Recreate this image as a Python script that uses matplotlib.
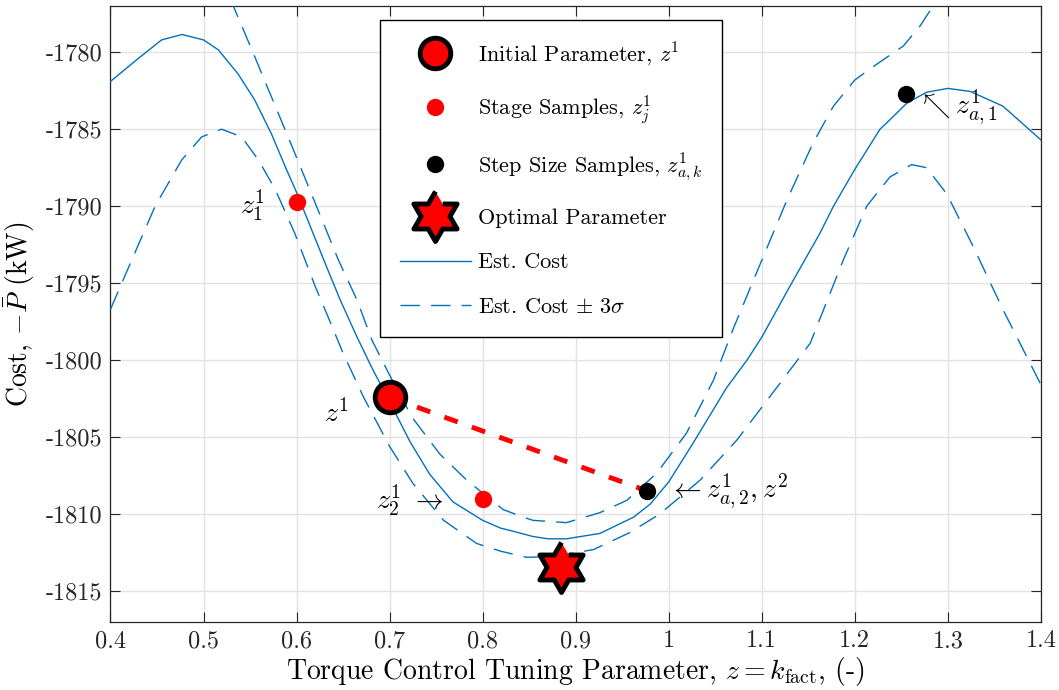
import numpy as np
import matplotlib
matplotlib.use("Agg")
import matplotlib.pyplot as plt
from matplotlib.ticker import FixedLocator, FuncFormatter

plt.rcParams["font.family"] = "serif"
plt.rcParams["font.serif"] = ["cmr10"]
plt.rcParams["mathtext.fontset"] = "cm"
plt.rcParams["axes.unicode_minus"] = False
plt.rcParams["axes.formatter.use_mathtext"] = True

# estimated cost curve (GP mean)
est_x = [0.400, 0.430, 0.455, 0.477, 0.500, 0.516, 0.537, 0.555, 0.573, 0.589,
         0.600, 0.632, 0.647, 0.665, 0.681, 0.700, 0.722, 0.743, 0.768,
         0.800, 0.819, 0.829, 0.854, 0.870, 0.890, 0.926, 0.962, 0.980, 1.000,
         1.026, 1.062, 1.084, 1.100, 1.132, 1.1625, 1.177, 1.200, 1.227, 1.234,
         1.256, 1.277, 1.300, 1.324, 1.359, 1.400]
est_y = [-1781.9, -1780.4, -1779.2, -1778.85, -1779.2, -1779.85, -1781.4, -1783.1, -1785.3, -1787.6,
         -1789.1, -1793.9, -1796.1, -1798.5, -1800.5, -1802.7, -1805.3, -1807.4, -1809.2,
         -1810.4, -1810.9, -1811.05, -1811.45, -1811.6, -1811.6, -1811.25, -1810.2, -1809.35, -1807.9,
         -1805.4, -1801.8, -1800.0, -1798.5, -1795.0, -1791.75, -1790.0, -1787.6, -1785.0, -1784.6,
         -1783.3, -1782.6, -1782.35, -1782.55, -1783.5, -1785.7]

# upper band, mean + 3 sigma
up_x = [0.525, 0.532, 0.552, 0.573, 0.595, 0.616, 0.645, 0.665, 0.681, 0.699,
        0.724, 0.754, 0.783, 0.822, 0.844, 0.854, 0.890, 0.926, 0.955, 0.987,
        1.019, 1.048, 1.069, 1.100, 1.127, 1.155, 1.177, 1.200, 1.223, 1.252,
        1.270, 1.284, 1.292]
up_y = [-1776.0, -1777.0, -1779.85, -1782.9, -1786.1, -1789.2, -1793.5, -1796.1, -1798.7, -1800.85,
        -1803.7, -1806.1, -1807.8, -1809.7, -1810.2, -1810.4, -1810.55, -1809.9, -1809.1, -1807.34,
        -1804.74, -1801.3, -1798.0, -1793.5, -1789.6, -1785.9, -1783.5, -1781.8, -1780.8, -1779.6,
        -1778.3, -1777.0, -1776.0]

# lower band, mean - 3 sigma
lo_x = [0.400, 0.420, 0.448, 0.4765, 0.498, 0.5195, 0.541, 0.559, 0.577, 0.598,
        0.620, 0.6395, 0.650, 0.672, 0.700, 0.725, 0.758, 0.7935, 0.819, 0.847,
        0.875, 0.919, 0.958, 0.990, 1.0335, 1.073, 1.112, 1.152, 1.1875, 1.2127,
        1.2377, 1.261, 1.277, 1.2987, 1.327, 1.359, 1.400]
lo_y = [-1796.7, -1793.9, -1790.0, -1787.0, -1785.5, -1785.0, -1785.5, -1787.0, -1788.9, -1791.75,
        -1795.2, -1798.0, -1799.55, -1802.4, -1805.6, -1808.0, -1810.4, -1811.9, -1812.4, -1812.8,
        -1812.75, -1812.3, -1811.2, -1810.0, -1807.8, -1805.2, -1802.1, -1798.9, -1793.5, -1790.0,
        -1788.1, -1787.3, -1787.5, -1789.2, -1792.6, -1796.7, -1801.6]

# sampled points
z1 = (0.700, -1802.4)
stage_x = [0.600, 0.800]
stage_y = [-1789.75, -1809.0]
step_x = [1.2546, 0.977]
step_y = [-1782.7, -1808.5]
z_opt = (0.884, -1813.4)

x_ticks = [0.4, 0.5, 0.6, 0.7, 0.8, 0.9, 1.0, 1.1, 1.2, 1.3, 1.4]
y_ticks = [-1815, -1810, -1805, -1800, -1795, -1790, -1785, -1780]

blue = "#0072BD"

# six pointed star marker
ang = np.deg2rad(90 + 30 * np.arange(12))
rad = np.where(np.arange(12) % 2 == 0, 1.0, 1 / np.sqrt(3))
hexagram = list(zip(rad * np.cos(ang), rad * np.sin(ang)))

fig = plt.figure(figsize=(10.59, 6.90), dpi=100)
ax = fig.add_axes([0.1043, 0.0986, 0.8787, 0.8927])

ax.plot(est_x, est_y, color=blue, lw=1.0, label="Est. Cost", zorder=3)
ax.plot(up_x, up_y, color=blue, lw=1.0, ls=(0, (14, 8)),
        label=r"Est. Cost $\pm\ 3\sigma$", zorder=3)
ax.plot(lo_x, lo_y, color=blue, lw=1.0, ls=(0, (14, 8)), zorder=3)

# step direction from z^1 to the chosen step
ax.plot([z1[0], step_x[1]], [z1[1], step_y[1]], color="red", lw=3.5,
        ls=(0, (2.9, 3.1)), zorder=4)

ax.plot([z1[0]], [z1[1]], "o", ms=22, mfc="red", mec="black", mew=3.5,
        ls="none", zorder=6, label=r"Initial Parameter, $z^1$")
ax.plot(stage_x, stage_y, "o", ms=12.5, color="red", mec="none",
        ls="none", zorder=6, label=r"Stage Samples, $z^1_j$")
ax.plot(step_x, step_y, "o", ms=12.5, color="black", mec="none",
        ls="none", zorder=6, label=r"Step Size Samples, $z^1_{a,k}$")
ax.plot([z_opt[0]], [z_opt[1]], marker=hexagram, ms=36, mfc="red",
        mec="black", mew=3.5, ls="none", zorder=6, label="Optimal Parameter")

fs_ann = 20
ax.text(0.566, -1789.9, r"$z^1_1$", fontsize=fs_ann, ha="right", va="center")
ax.text(0.656, -1803.5, r"$z^1$", fontsize=fs_ann, ha="right", va="center")
ax.text(0.758, -1809.1, r"$z^1_2\ \rightarrow$", fontsize=fs_ann, ha="right", va="center")
ax.text(1.000, -1808.5, r"$\leftarrow z^1_{a,2}, z^2$", fontsize=fs_ann, ha="left", va="center")
ax.text(1.268, -1783.6, r"$\nwarrow z^1_{a,1}$", fontsize=fs_ann, ha="left", va="center")

ax.set_xlim(0.4, 1.4)
ax.set_ylim(-1817, -1777)
ax.xaxis.set_major_locator(FixedLocator(x_ticks))
ax.yaxis.set_major_locator(FixedLocator(y_ticks))
ax.xaxis.set_major_formatter(FuncFormatter(lambda v, p: f"{v:g}"))
ax.yaxis.set_major_formatter(FuncFormatter(lambda v, p: f"{v:g}"))
ax.tick_params(direction="in", length=7, width=0.8, labelsize=17.5,
               top=True, right=True, colors="#262626", pad=6)
ax.grid(True, color="#e3e3e3", lw=1.0)
ax.set_axisbelow(True)
for s in ax.spines.values():
    s.set_color("#262626")
    s.set_linewidth(0.9)

ax.set_xlabel(r"Torque Control Tuning Parameter, $z = k_{\mathrm{fact}}$, (-)", fontsize=20, labelpad=2)
ax.set_ylabel(r"Cost, $-\bar{P}$ (kW)", fontsize=20, labelpad=6)

handles, labels = ax.get_legend_handles_labels()
order = [labels.index(l) for l in [r"Initial Parameter, $z^1$", r"Stage Samples, $z^1_j$",
                                   r"Step Size Samples, $z^1_{a,k}$", "Optimal Parameter",
                                   "Est. Cost", r"Est. Cost $\pm\ 3\sigma$"]]
leg = ax.legend([handles[i] for i in order], [labels[i] for i in order],
                loc="upper left", bbox_to_anchor=(0.2896, 0.977), borderaxespad=0,
                fontsize=16, numpoints=1, handlelength=3.2, handletextpad=0.3,
                labelspacing=1.12, borderpad=0.9, fancybox=False, framealpha=1,
                edgecolor="black")
leg.get_frame().set_linewidth(1.0)
leg.set_zorder(10)

fig.savefig("out.png", dpi=100)
